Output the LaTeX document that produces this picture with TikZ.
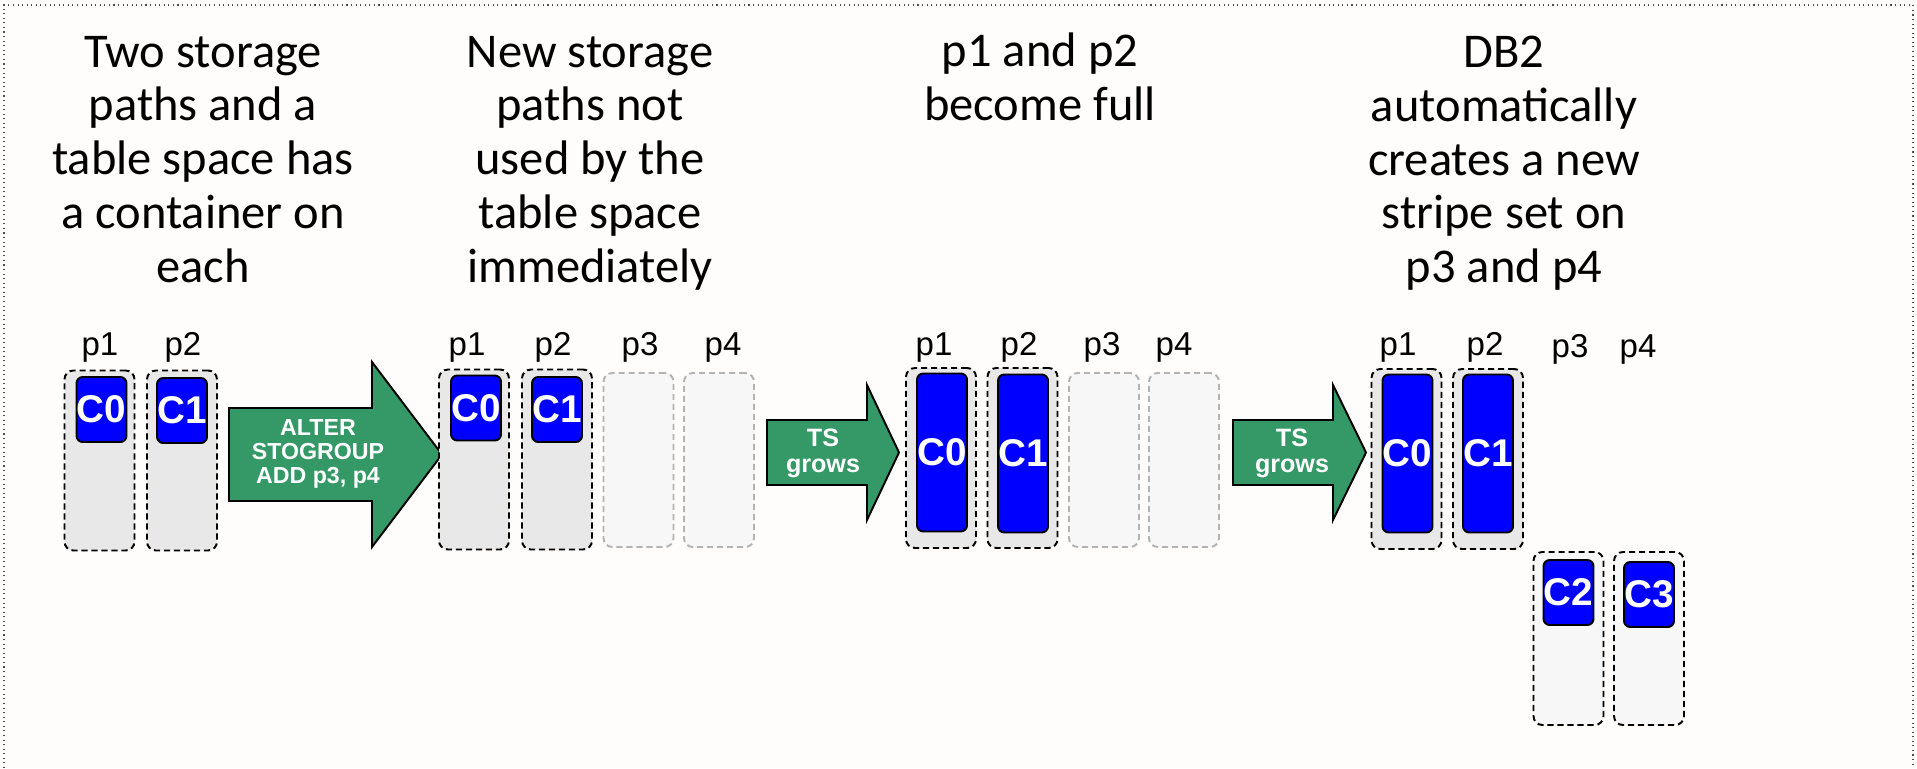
\documentclass[tikz,border=0pt]{standalone}
\usepackage{fontspec}
\setmainfont{Carlito}
\newfontfamily\helv{Liberation Sans}
\usetikzlibrary{positioning}
\definecolor{tsgreen}{HTML}{349966}
\definecolor{tsblue}{HTML}{0000FF}
\definecolor{pathgray}{HTML}{E8E8E8}
\definecolor{emptygray}{HTML}{F7F7F7}
\definecolor{emptyline}{HTML}{B3B3B3}
\definecolor{paper}{HTML}{FEFDFB}
\begin{document}
\begin{tikzpicture}[x=0.02cm, y=-0.02cm,
  every node/.style={inner sep=0pt, outer sep=0pt},
  titletext/.style={font=\fontsize{27.6pt}{30.6pt}\selectfont, align=center, anchor=north},
  pathlabel/.style={font=\helv\fontsize{18.8pt}{21pt}\selectfont, anchor=base},
  pathbox/.style={rectangle, rounded corners=5pt, draw=black, line width=1.1pt, dash pattern=on 3.5pt off 2.2pt, fill=pathgray, minimum width=1.4cm, minimum height=3.6cm},
  emptybox/.style={pathbox, draw=emptyline, fill=emptygray, minimum height=3.48cm},
  newbox/.style={pathbox, fill=emptygray, minimum height=3.46cm},
  contbox/.style={rectangle, rounded corners=3.5pt, draw=black, line width=1.1pt, fill=tsblue, text=white, font=\helv\bfseries\fontsize{22pt}{24pt}\selectfont, minimum width=1cm, minimum height=1.3cm},
  fullbox/.style={contbox, minimum height=3.16cm},
  growarrow/.style={draw=black, line width=1.1pt, fill=tsgreen, line join=miter},
  arrowtext/.style={text=white, font=\helv\bfseries, align=center, anchor=north},
]
\useasboundingbox (0,0) rectangle (1917,768);
\fill[paper] (0,0) rectangle (1917,768);
\draw[dotted, black!70, line width=0.6pt] (4,768) -- (4,5) -- (1913,5) -- (1913,768);

% (1) two paths, one container each
\node[titletext] (t1) at (203,36) {Two storage\\paths and a\\table space has\\a container on\\each};
\node[pathlabel] (s1l1) at (100,355) {p1};
\node[pathlabel] (s1l2) at (183,355) {p2};
\node[pathbox] (s1p1) at (99.5,460.5) {};
\node[pathbox] (s1p2) at (182,460.5) {};
\node[contbox] (s1c0) at (101.5,409.5) {C0};
\node[contbox] (s1c1) at (182,410.5) {C1};

\draw[growarrow] (229,408) -- (372,408) -- (372,362) -- (442,454.5) -- (372,547) -- (372,501) -- (229,501) -- cycle;
\node[arrowtext, font=\helv\bfseries\fontsize{13.2pt}{13.6pt}\selectfont] (a1) at (318,420) {ALTER\\STOGROUP\\ADD p3, p4};

% (2) new paths added
\node[titletext] (t2) at (590,36) {New storage\\paths not\\used by the\\table space\\immediately};
\node[pathlabel] (s2l1) at (467,355) {p1};
\node[pathlabel] (s2l2) at (553,355) {p2};
\node[pathlabel] (s2l3) at (640,355) {p3};
\node[pathlabel] (s2l4) at (723,355) {p4};
\node[pathbox] (s2p1) at (474,459.5) {};
\node[pathbox] (s2p2) at (557,459.5) {};
\node[emptybox] (s2p3) at (638.5,460) {};
\node[emptybox] (s2p4) at (719,460) {};
\node[contbox] (s2c0) at (476,408) {C0};
\node[contbox] (s2c1) at (557,409.5) {C1};

\draw[growarrow] (767,420) -- (867,420) -- (867,385) -- (899,452.5) -- (867,520) -- (867,485) -- (767,485) -- cycle;
\node[arrowtext, font=\helv\bfseries\fontsize{14.3pt}{15pt}\selectfont] (a2) at (823,429) {TS\\grows};

% (3) p1 and p2 full
\node[titletext] (t3) at (1040,33) {p1 and p2\\become full};
\node[pathlabel] (s3l1) at (934,355) {p1};
\node[pathlabel] (s3l2) at (1019,355) {p2};
\node[pathlabel] (s3l3) at (1102,355) {p3};
\node[pathlabel] (s3l4) at (1174,355) {p4};
\node[pathbox] (s3p1) at (941,458) {};
\node[pathbox] (s3p2) at (1022.5,458) {};
\node[emptybox] (s3p3) at (1104,460) {};
\node[emptybox] (s3p4) at (1184,460) {};
\node[fullbox] (s3c0) at (942,452.5) {C0};
\node[fullbox] (s3c1) at (1023,453.5) {C1};

\draw[growarrow] (1233,420) -- (1333,420) -- (1333,385) -- (1366,452.5) -- (1333,520) -- (1333,485) -- (1233,485) -- cycle;
\node[arrowtext, font=\helv\bfseries\fontsize{14.3pt}{15pt}\selectfont] (a3) at (1292,429) {TS\\grows};

% (4) new stripe set on p3 and p4
\node[titletext] (t4) at (1504,36) {DB2\\automatically\\creates a new\\stripe set on\\p3 and p4};
\node[pathlabel] (s4l1) at (1398,355) {p1};
\node[pathlabel] (s4l2) at (1485,355) {p2};
\node[pathlabel] (s4l3) at (1570,357) {p3};
\node[pathlabel] (s4l4) at (1638,357) {p4};
\node[pathbox] (s4p1) at (1406.5,459) {};
\node[pathbox] (s4p2) at (1488,459) {};
\node[fullbox] (s4c0) at (1407.5,453.5) {C0};
\node[fullbox] (s4c1) at (1488,453.5) {C1};
\node[newbox] (s4p3) at (1568.5,638.5) {};
\node[newbox] (s4p4) at (1649,638.5) {};
\node[contbox] (s4c2) at (1568.5,592.5) {C2};
\node[contbox] (s4c3) at (1649,594.5) {C3};
\end{tikzpicture}
\end{document}
